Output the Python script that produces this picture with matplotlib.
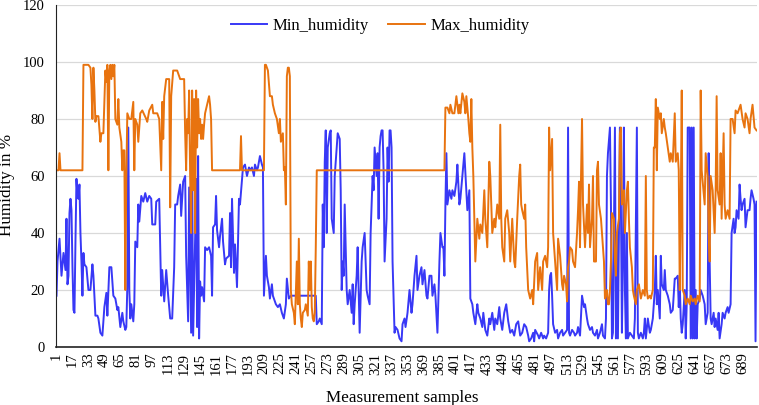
import matplotlib
matplotlib.use("Agg")
import matplotlib.pyplot as plt

# humidity readings, (sample number, value)
min_points = [
    (1, 18), (2, 30), (4, 38), (6, 25), (8, 33), (10, 27), (11, 45), (12, 22), (13, 25), (14, 47),
    (15, 52), (16, 48), (17, 28), (18, 13), (19, 12), (20, 37), (21, 59), (22, 53), (23, 52), (24, 57),
    (25, 40), (26, 30), (27, 18), (28, 33), (29, 29), (31, 28), (33, 20), (35, 20), (37, 29), (38, 25),
    (40, 11), (42, 11), (43, 10), (45, 5), (47, 4), (49, 14), (51, 19), (52, 11), (54, 28), (56, 28),
    (58, 18), (60, 17), (62, 13), (63, 14), (65, 7), (67, 12), (68, 9), (70, 6), (71, 7), (72, 21),
    (73, 77), (74, 20), (75, 10), (76, 15), (78, 9), (79, 15), (80, 37), (82, 35), (83, 50), (84, 44),
    (86, 53), (88, 51), (90, 54), (92, 51), (94, 53), (96, 52), (97, 43), (100, 43), (101, 51), (104, 52),
    (106, 18), (107, 27), (109, 16), (111, 27), (113, 18), (115, 10), (117, 10), (119, 28), (120, 50), (122, 50),
    (123, 53), (125, 57), (126, 46), (128, 58), (130, 60), (131, 32), (133, 9), (134, 56), (136, 5), (137, 65),
    (138, 4), (140, 38), (141, 59), (142, 7), (143, 67), (144, 3), (145, 23), (146, 18), (147, 21), (149, 16),
    (150, 35), (152, 34), (154, 35), (156, 32), (157, 18), (158, 42), (160, 43), (161, 53), (162, 41), (164, 35),
    (165, 39), (167, 45), (168, 37), (170, 29), (171, 31), (174, 32), (175, 47), (176, 28), (177, 52), (179, 26),
    (180, 36), (182, 21), (184, 52), (185, 50), (187, 59), (188, 63), (190, 64), (192, 60), (194, 63), (195, 62),
    (197, 63), (199, 60), (200, 64), (202, 62), (203, 63), (205, 67), (207, 64), (208, 63), (209, 18), (211, 32),
    (212, 25), (214, 21), (215, 17), (217, 22), (218, 18), (220, 16), (221, 15), (223, 14), (225, 15), (227, 12),
    (229, 10), (231, 15), (232, 24), (234, 17), (236, 18), (261, 18), (262, 8), (264, 9), (265, 10), (267, 8),
    (268, 50), (269, 35), (270, 65), (271, 76), (272, 40), (273, 70), (275, 75), (276, 76), (277, 45), (279, 40),
    (280, 60), (282, 70), (283, 75), (285, 73), (286, 55), (287, 20), (288, 30), (289, 25), (290, 50), (292, 20),
    (293, 15), (295, 20), (297, 12), (298, 22), (299, 8), (300, 15), (302, 25), (303, 35), (305, 5), (307, 30),
    (308, 35), (310, 40), (312, 20), (313, 18), (315, 15), (316, 40), (317, 50), (318, 60), (319, 55), (320, 70),
    (322, 60), (323, 68), (324, 45), (325, 70), (326, 74), (327, 76), (328, 76), (329, 62), (330, 30), (332, 45),
    (333, 70), (334, 58), (335, 76), (336, 76), (337, 70), (338, 30), (339, 18), (340, 5), (341, 7), (343, 6),
    (345, 3), (347, 2), (348, 8), (350, 10), (351, 7), (353, 12), (355, 20), (357, 12), (358, 15), (360, 25),
    (362, 32), (363, 20), (365, 25), (367, 28), (368, 22), (370, 27), (372, 18), (373, 17), (375, 25), (377, 25),
    (378, 18), (380, 22), (381, 18), (383, 5), (385, 30), (386, 40), (388, 35), (389, 35), (390, 25), (391, 50),
    (392, 68), (393, 50), (395, 55), (397, 52), (398, 55), (400, 53), (402, 58), (403, 64), (405, 50), (406, 52),
    (408, 60), (410, 68), (412, 55), (413, 48), (415, 55), (416, 17), (418, 15), (419, 12), (421, 8), (423, 15),
    (424, 12), (426, 10), (428, 7), (429, 12), (431, 6), (433, 4), (435, 10), (436, 8), (438, 12), (440, 6),
    (441, 10), (443, 8), (445, 14), (446, 10), (448, 6), (450, 12), (452, 15), (454, 9), (456, 5), (458, 6),
    (460, 4), (462, 8), (464, 9), (466, 4), (468, 5), (470, 8), (472, 7), (474, 4), (475, 2), (477, 3),
    (479, 5), (480, 2), (481, 6), (484, 4), (485, 3), (487, 5), (489, 3), (490, 4), (492, 3), (494, 5),
    (495, 20), (496, 25), (497, 26), (498, 18), (499, 8), (501, 5), (503, 6), (504, 3), (506, 5), (508, 6),
    (509, 4), (511, 5), (513, 6), (514, 77), (515, 5), (516, 4), (518, 6), (520, 5), (521, 4), (523, 5),
    (524, 7), (526, 4), (528, 18), (530, 14), (531, 15), (533, 10), (534, 8), (536, 6), (538, 7), (539, 5),
    (541, 4), (543, 6), (544, 3), (546, 5), (548, 8), (549, 4), (551, 3), (552, 10), (553, 60), (554, 68),
    (556, 77), (557, 50), (558, 3), (559, 5), (561, 77), (562, 3), (563, 40), (564, 3), (566, 77), (567, 50),
    (568, 5), (569, 30), (570, 77), (571, 20), (572, 3), (573, 40), (574, 3), (576, 5), (578, 4), (580, 3),
    (581, 10), (583, 77), (584, 5), (585, 3), (587, 5), (589, 3), (590, 5), (591, 10), (592, 3), (594, 10),
    (596, 5), (597, 6), (599, 10), (601, 20), (602, 32), (603, 15), (604, 20), (606, 10), (607, 32), (608, 22),
    (610, 20), (611, 27), (612, 20), (614, 18), (616, 15), (617, 12), (619, 13), (621, 24), (622, 24), (624, 25),
    (625, 14), (626, 22), (627, 10), (628, 5), (629, 8), (631, 20), (632, 3), (633, 15), (634, 77), (636, 77),
    (637, 3), (638, 77), (639, 3), (640, 77), (641, 3), (642, 20), (643, 3), (644, 15), (646, 17), (647, 20),
    (649, 18), (651, 15), (652, 8), (654, 12), (655, 68), (656, 30), (657, 10), (658, 8), (660, 12), (661, 7),
    (662, 10), (664, 6), (665, 12), (666, 3), (668, 8), (669, 12), (671, 10), (672, 12), (674, 14), (675, 12),
    (677, 15), (678, 40), (680, 45), (681, 40), (682, 42), (683, 48), (685, 45), (686, 57), (687, 52), (688, 48),
    (689, 50), (691, 52), (692, 42), (694, 48), (696, 48), (697, 52), (698, 55), (700, 52), (701, 50), (702, 2),
    (703, 51),
]

max_points = [
    (1, 62), (3, 62), (4, 68), (5, 62), (27, 62), (28, 99), (33, 99), (35, 98), (36, 92), (37, 80),
    (38, 98), (39, 90), (40, 79), (41, 81), (43, 81), (45, 72), (46, 75), (48, 75), (50, 97), (51, 93),
    (52, 99), (53, 62), (54, 97), (55, 99), (56, 94), (57, 99), (58, 95), (59, 99), (60, 80), (62, 78),
    (63, 87), (64, 77), (66, 72), (67, 62), (68, 69), (69, 69), (70, 20), (71, 60), (72, 82), (74, 80),
    (76, 80), (78, 86), (79, 62), (80, 80), (82, 78), (83, 72), (85, 82), (87, 83), (91, 80), (92, 79),
    (94, 83), (97, 85), (98, 82), (102, 82), (104, 80), (106, 62), (107, 86), (108, 73), (109, 88), (111, 94),
    (114, 94), (115, 49), (116, 88), (118, 97), (122, 97), (125, 94), (129, 94), (130, 75), (131, 62), (132, 80),
    (133, 75), (134, 90), (135, 60), (136, 40), (137, 90), (138, 55), (139, 87), (140, 40), (141, 90), (142, 70),
    (143, 87), (144, 75), (145, 80), (146, 73), (147, 78), (148, 73), (149, 78), (150, 82), (152, 85), (154, 88),
    (155, 85), (156, 80), (157, 62), (185, 62), (186, 74), (187, 62), (209, 62), (210, 99), (211, 99), (213, 97),
    (215, 88), (217, 88), (218, 85), (220, 82), (222, 80), (224, 75), (225, 80), (226, 72), (228, 75), (229, 62),
    (230, 63), (231, 50), (232, 95), (233, 98), (234, 98), (235, 95), (236, 20), (237, 15), (239, 12), (240, 8),
    (242, 30), (243, 15), (244, 38), (245, 15), (246, 10), (247, 7), (248, 12), (250, 13), (251, 15), (253, 11),
    (254, 30), (255, 20), (256, 30), (257, 14), (258, 10), (259, 9), (260, 12), (261, 35), (262, 62), (390, 62),
    (391, 84), (393, 84), (395, 82), (396, 85), (398, 82), (400, 82), (401, 85), (402, 88), (404, 82), (405, 85),
    (406, 82), (408, 89), (410, 86), (411, 82), (412, 88), (414, 80), (415, 75), (416, 72), (417, 87), (418, 70),
    (419, 60), (420, 45), (421, 30), (423, 45), (425, 38), (426, 43), (428, 40), (430, 55), (431, 45), (433, 35),
    (435, 65), (436, 60), (438, 40), (440, 45), (441, 42), (443, 50), (445, 45), (446, 78), (447, 45), (448, 35),
    (450, 30), (451, 45), (453, 48), (455, 40), (456, 30), (458, 45), (460, 30), (461, 28), (463, 45), (465, 60),
    (466, 64), (467, 50), (468, 48), (470, 45), (471, 50), (472, 35), (474, 20), (476, 17), (478, 20), (479, 15),
    (481, 30), (483, 33), (484, 20), (486, 28), (488, 20), (489, 30), (491, 32), (493, 28), (494, 35), (495, 77),
    (496, 62), (498, 73), (499, 40), (500, 35), (502, 25), (503, 20), (504, 38), (506, 32), (508, 22), (509, 20),
    (510, 25), (512, 22), (513, 16), (514, 28), (515, 30), (516, 35), (518, 34), (519, 30), (521, 28), (523, 40),
    (524, 48), (525, 58), (526, 35), (527, 60), (528, 80), (529, 50), (531, 35), (533, 50), (534, 40), (535, 57),
    (536, 35), (538, 45), (539, 60), (540, 30), (542, 30), (543, 62), (544, 65), (545, 50), (547, 45), (548, 40),
    (550, 30), (551, 17), (553, 20), (554, 15), (555, 15), (556, 20), (557, 30), (558, 47), (560, 45), (561, 30),
    (562, 25), (563, 40), (565, 45), (566, 75), (567, 77), (568, 50), (569, 52), (570, 55), (571, 40), (573, 55),
    (574, 58), (575, 45), (576, 35), (578, 28), (579, 20), (580, 18), (582, 15), (583, 20), (585, 22), (587, 17),
    (589, 20), (591, 18), (592, 60), (593, 20), (594, 17), (596, 18), (597, 17), (599, 20), (600, 70), (601, 70),
    (602, 87), (603, 62), (604, 84), (606, 80), (607, 82), (608, 75), (610, 80), (611, 77), (612, 75), (614, 70),
    (616, 65), (617, 68), (619, 65), (621, 82), (622, 65), (624, 68), (625, 62), (626, 20), (627, 50), (628, 90),
    (629, 20), (631, 18), (632, 15), (634, 17), (636, 15), (637, 18), (639, 16), (641, 17), (642, 15), (644, 18),
    (646, 16), (647, 90), (648, 62), (649, 58), (651, 50), (652, 68), (654, 60), (655, 40), (656, 30), (657, 60),
    (659, 55), (661, 40), (662, 55), (663, 88), (664, 55), (666, 50), (667, 68), (668, 45), (670, 75), (671, 50),
    (672, 45), (674, 48), (676, 45), (677, 80), (679, 80), (681, 75), (682, 83), (684, 82), (686, 84), (687, 85),
    (689, 80), (691, 77), (692, 82), (694, 80), (696, 75), (697, 80), (699, 85), (701, 77), (703, 76),
]

n_samples = 703
x_ticks = list(range(1, 690, 16))
y_ticks = [0, 20, 40, 60, 80, 100, 120]


def main():
    plt.rcParams['font.family'] = ['Liberation Serif', 'DejaVu Serif']
    fig = plt.figure(figsize=(7.59, 4.05), dpi=100)
    ax = fig.add_axes([0.0738, 0.1432, 0.9236, 0.8445])

    min_x, min_y = zip(*min_points)
    max_x, max_y = zip(*max_points)
    ax.plot(min_x, min_y, color='#3838F6', lw=1.4, label='Min_humidity')
    ax.plot(max_x, max_y, color='#E8730F', lw=1.4, label='Max_humidity')

    ax.set_xlim(0.5, n_samples + 0.5)
    ax.set_ylim(0, 120)
    ax.set_yticks(y_ticks)
    ax.set_xticks(x_ticks)
    ax.set_xticklabels([str(t) for t in x_ticks], rotation=90, fontsize=10.5)
    ax.tick_params(axis='y', labelsize=10.5, length=0, pad=8)
    ax.tick_params(axis='x', length=0, pad=4)
    ax.grid(axis='y', color='#D9D9D9', lw=0.9)
    ax.set_axisbelow(True)
    for side in ['top', 'right']:
        ax.spines[side].set_visible(False)
    ax.spines['left'].set_color('#222222')
    ax.spines['bottom'].set_color('#222222')
    ax.spines['bottom'].set_linewidth(1.2)

    ax.set_xlabel('Measurement samples', fontsize=12.3)
    ax.xaxis.set_label_coords(0.494, -0.125)
    ax.xaxis.label.set_va('top')
    ax.set_ylabel('Humidity in %', fontsize=12.3)
    ax.yaxis.set_label_coords(-0.058, 0.474)
    ax.legend(loc='center', bbox_to_anchor=(0.462, 0.94), ncol=2, frameon=False,
              fontsize=12, handlelength=2.2, columnspacing=1.2, handletextpad=0.3)

    fig.savefig('out.png', dpi=100)


if __name__ == "__main__":
    main()
